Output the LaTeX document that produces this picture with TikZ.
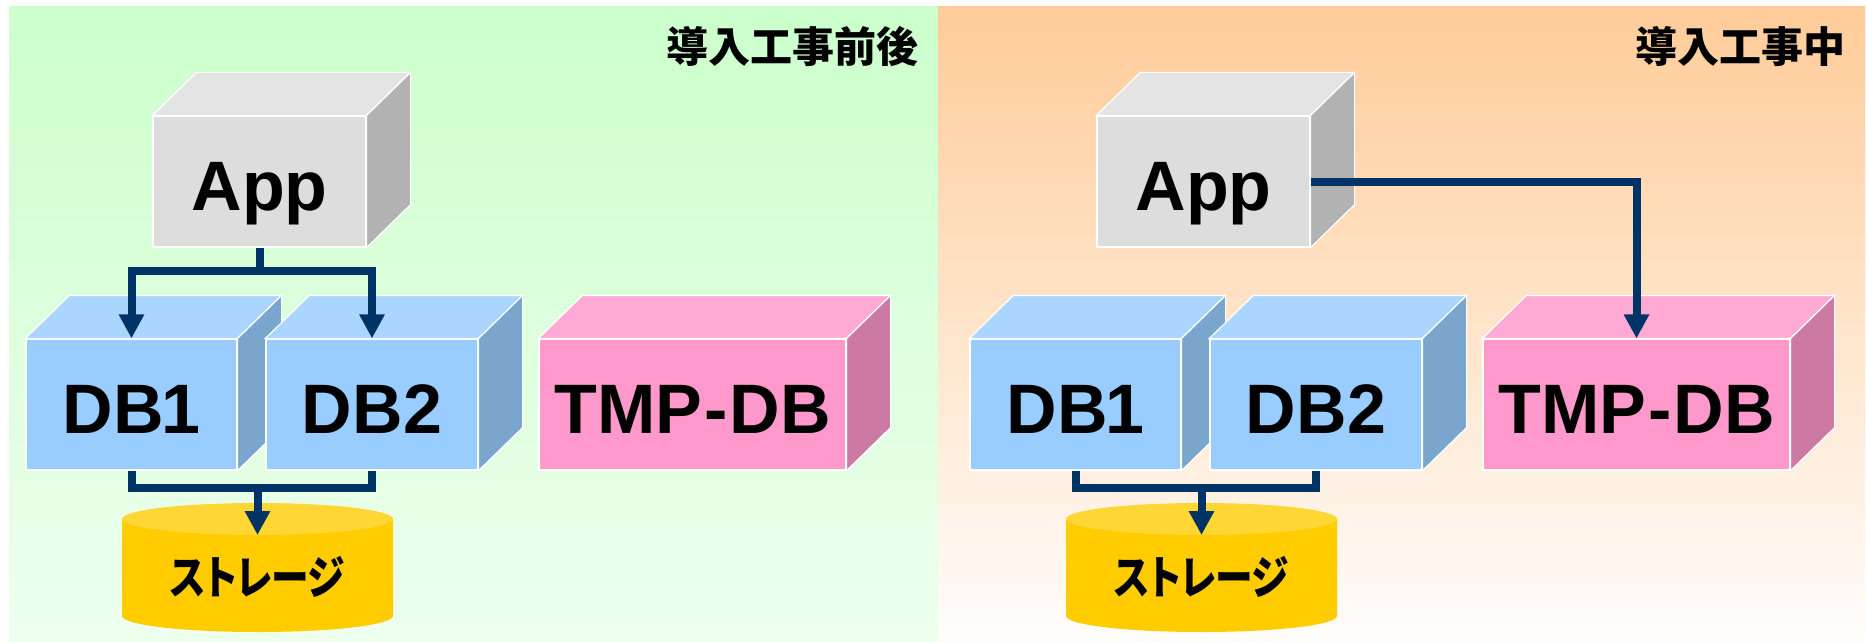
\documentclass[tikz,border=0pt]{standalone}
\usepackage{fontspec}
\setmainfont{Liberation Sans}
\newfontfamily\jp{Noto Sans CJK JP}
\newfontfamily\jpp{Noto Sans CJK JP}[RawFeature=+palt, FakeStretch=0.82]
\usetikzlibrary{arrows.meta}
\definecolor{appF}{HTML}{DDDDDD}
\definecolor{appT}{HTML}{E4E4E4}
\definecolor{appS}{HTML}{B2B2B2}
\definecolor{dbF}{HTML}{99CCFF}
\definecolor{dbT}{HTML}{AAD5FF}
\definecolor{dbS}{HTML}{7AA5CC}
\definecolor{tmpF}{HTML}{FF99CC}
\definecolor{tmpT}{HTML}{FFAAD5}
\definecolor{tmpS}{HTML}{CC7AA3}
\definecolor{stBody}{HTML}{FFCC00}
\definecolor{stTop}{HTML}{FFD633}
\definecolor{connc}{HTML}{003366}
\definecolor{grTop}{HTML}{CCFFCC}
\definecolor{grBot}{HTML}{EEFFEE}
\definecolor{orTop}{HTML}{FFCC99}
\definecolor{orBot}{HTML}{FFFDFB}
\tikzset{
  face/.style={draw=white, line width=1.2pt, line join=miter},
  frontface/.style={face, inner sep=0pt, text height=57pt, text depth=0pt,
    font=\bfseries\fontsize{70}{70}\selectfont},
  conn/.style={draw=connc, line width=8pt, line cap=butt, line join=miter},
  arr/.style={-{Triangle[width=24pt,length=24pt]}},
  title/.style={font=\jp\bfseries\fontsize{42}{42}\selectfont, anchor=east, inner sep=0pt},
  stlabel/.style={font=\jpp\bfseries\fontsize{46}{46}\selectfont, inner sep=0pt},
}
% name, cx, cy, w, h, colour prefix, text
\newcommand\cubebox[7]{%
  \node[frontface, fill=#6F, minimum width=#4pt, minimum height=#5pt] (#1) at (#2,#3) {#7};
  \draw[face, fill=#6T] (#1.north west) -- ++(44,-43) -- ([shift={(44,-43)}]#1.north east) -- (#1.north east) -- cycle;
  \draw[face, fill=#6S] (#1.north east) -- ++(44,-43) -- ([shift={(44,-43)}]#1.south east) -- (#1.south east) -- cycle;
}
% suffix
\newcommand\panelcontent[1]{%
  \cubebox{app#1}{259.5}{181.5}{213}{131}{app}{App}
  \cubebox{dbone#1}{131.5}{404.5}{211}{131}{db}{DB\kern-2pt 1}
  \cubebox{dbtwo#1}{372}{404.5}{212}{131}{db}{DB2}
  \cubebox{tmp#1}{692.5}{404.5}{307}{131}{tmp}{TMP\kern2pt-\kern2pt DB}
  \fill[stBody] (122,519) -- (122,616) arc[start angle=180, end angle=0, x radius=135.5, y radius=16] -- (393,519) -- cycle;
  \fill[stTop] (257.5,519) ellipse[x radius=135.5, y radius=16];
  \node[stlabel] (st#1) at (257.5,577) {ストレージ};
  \coordinate (sttop#1) at (257.5,535);
  \draw[conn] (dbone#1.south) -- ++(0,17) -| (dbtwo#1.south);
  \draw[conn, arr] ([yshift=-17pt]sttop#1 |- dbone#1.south) -- (sttop#1);
}
\begin{document}
\begin{tikzpicture}[x=1pt, y=-1pt]
  \useasboundingbox (0,0) rectangle (1866,642);
  \fill[white] (0,0) rectangle (1866,642);
  \shade[top color=grTop, bottom color=grBot] (9,7) rectangle (938,642);
  \shade[top color=orTop, bottom color=orBot] (938,7) rectangle (1865,642);
  \node[title] (tL) at (919,47) {導入工事前後};
  \node[title] (tR) at (1846,47) {導入工事中};
  \begin{scope}
    \panelcontent{L}
  \end{scope}
  \begin{scope}[xshift=944pt]
    \panelcontent{R}
  \end{scope}
  \draw[conn, arr] (appL.south) -- ++(0,23) -| (dboneL.north);
  \draw[conn, arr] (appL.south) -- ++(0,23) -| (dbtwoL.north);
  \draw[conn, arr] (appR.east) -| (tmpR.north);
\end{tikzpicture}
\end{document}
